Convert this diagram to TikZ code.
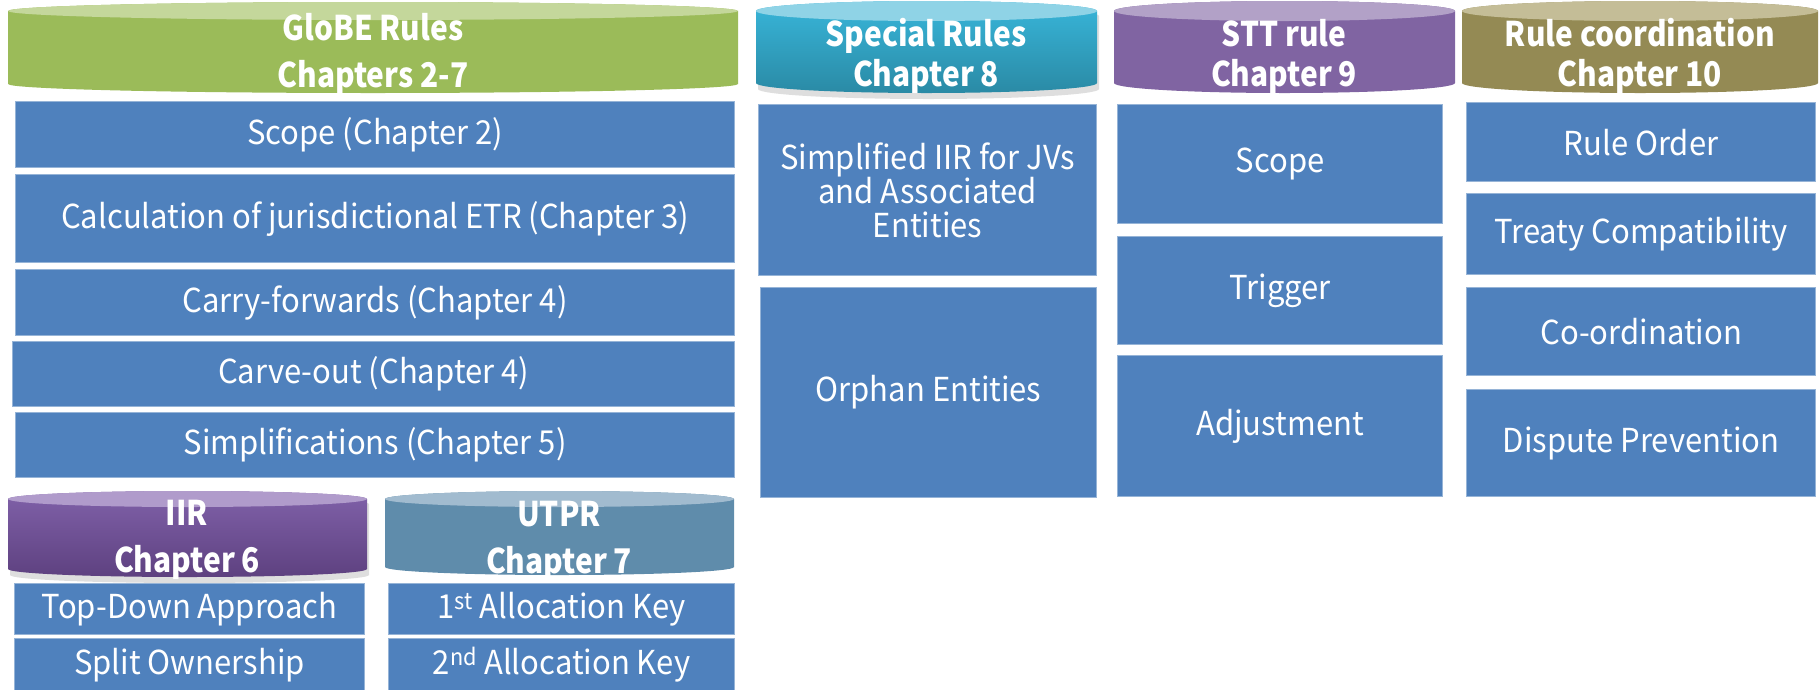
\documentclass[tikz,border=0pt]{standalone}
\usepackage{fontspec}
\setmainfont{Noto Sans CJK KR}[FakeStretch=0.94]
\newfontfamily\drumfont{Noto Sans CJK KR}[FakeStretch=0.88]

\definecolor{boxblue}{RGB}{79,129,189}
\definecolor{boxedge}{RGB}{150,180,215}
\definecolor{globebody}{RGB}{155,187,89}
\definecolor{globelid}{RGB}{196,215,155}
\definecolor{specialtop}{RGB}{56,182,218}
\definecolor{specialbot}{RGB}{42,138,165}
\definecolor{speciallid}{RGB}{143,211,230}
\definecolor{sttbody}{RGB}{128,100,162}
\definecolor{sttlid}{RGB}{178,161,199}
\definecolor{coordbody}{RGB}{148,138,84}
\definecolor{coordlid}{RGB}{196,189,151}
\definecolor{iirtop}{RGB}{128,97,169}
\definecolor{iirbot}{RGB}{94,65,128}
\definecolor{iirlid}{RGB}{176,155,203}
\definecolor{utprbody}{RGB}{95,140,171}
\definecolor{utprlid}{RGB}{161,187,207}

% drum body: x1, x2, top, bottom, ry, options
\newcommand{\drumbody}[6]{%
  \path[#6] (#1,#3+#5) -- (#1,#4-#5) arc[start angle=180,end angle=0,x radius={(#2-#1)/2},y radius=#5]
    -- (#2,#3+#5) arc[start angle=0,end angle=-180,x radius={(#2-#1)/2},y radius=#5] -- cycle;
}
% drum: x1, x2, top, bottom, ry, body options, lid colour
\newcommand{\drum}[7]{%
  \drumbody{#1}{#2}{#3}{#4}{#5}{#6}
  \fill[#7] ({(#1+#2)/2},#3+#5) ellipse[x radius={(#2-#1)/2},y radius=#5];
}

\tikzset{
  ruleblock/.style={rectangle, fill=boxblue, draw=boxedge, line width=1.2pt, text=white,
    anchor=north west, inner sep=0pt, align=center, font=\fontsize{33}{34}\selectfont},
  drumtext/.style={text=white, align=center, inner sep=0pt, font=\drumfont\bfseries\fontsize{34}{40}\selectfont},
  widedrumtext/.style={drumtext, font=\drumfont\bfseries\fontsize{34}{47}\selectfont},
  drumshadow/.style={fill=black, opacity=0.13},
}

\begin{document}
\begin{tikzpicture}[x=1pt,y=1pt,yscale=-1]
\useasboundingbox (0,0) rectangle (1820,689);

%Shape: Drum shadows
\drumbody{758}{1099}{6}{99}{10}{drumshadow}
\drumbody{10}{369}{496}{583}{8}{drumshadow}

%Shape: Drums
\drum{8}{738}{2}{93}{9}{fill=globebody}{globelid}
\drum{756}{1097}{1}{93}{10}{top color=specialtop,bottom color=specialbot}{speciallid}
\drum{1114}{1455}{1}{93}{10}{fill=sttbody}{sttlid}
\drum{1462}{1818}{1}{93}{10}{fill=coordbody}{coordlid}
\drum{8}{367}{491}{577}{8}{top color=iirtop,bottom color=iirbot}{iirlid}
\drum{385}{734}{491}{575}{8}{fill=utprbody}{utprlid}

% Drum titles
\node[widedrumtext] (globe) at (373,54) {GloBE Rules\\Chapters 2-7};
\node[drumtext] (special) at (926,56) {Special Rules\\Chapter 8};
\node[drumtext] (stt) at (1284,56) {STT rule\\Chapter 9};
\node[drumtext] (coord) at (1640,56) {Rule coordination\\Chapter 10};
\node[widedrumtext] (iir) at (187,540) {IIR\\Chapter 6};
\node[widedrumtext] (utpr) at (559,541) {UTPR\\Chapter 7};

% GloBE blocks
\node[ruleblock, minimum width=719, minimum height=66] (scope) at (15,101) {Scope (Chapter 2)};
\node[ruleblock, minimum width=719, minimum height=88] (etr) at (15,174) {Calculation of jurisdictional ETR (Chapter 3)};
\node[ruleblock, minimum width=719, minimum height=66] (carry) at (15,269) {Carry-forwards (Chapter 4)};
\node[ruleblock, minimum width=722, minimum height=65] (carve) at (12,341) {Carve-out (Chapter 4)};
\node[ruleblock, minimum width=719, minimum height=65] (simpl) at (15,412) {Simplifications (Chapter 5)};

% IIR and UTPR blocks
\node[ruleblock, minimum width=350, minimum height=51] (topdown) at (14,583) {Top-Down Approach};
\node[ruleblock, minimum width=350, minimum height=53] (split) at (14,638) {Split Ownership};
\node[ruleblock, minimum width=346, minimum height=51] (firstkey) at (388,583) {1\textsuperscript{st} Allocation Key};
\node[ruleblock, minimum width=346, minimum height=53] (secondkey) at (388,638) {2\textsuperscript{nd} Allocation Key};

% Special rules blocks
\node[ruleblock, minimum width=338, minimum height=171] (jv) at (758,104) {Simplified IIR for JVs\\and Associated\\Entities};
\node[ruleblock, minimum width=336, minimum height=210] (orphan) at (760,287) {Orphan Entities};

% STT blocks
\node[ruleblock, minimum width=325, minimum height=119] (sttscope) at (1117,104) {Scope};
\node[ruleblock, minimum width=325, minimum height=108] (trigger) at (1117,236) {Trigger};
\node[ruleblock, minimum width=325, minimum height=141] (adjust) at (1117,355) {Adjustment};

% Coordination blocks
\node[ruleblock, minimum width=349, minimum height=79] (order) at (1466,102) {Rule Order};
\node[ruleblock, minimum width=349, minimum height=81] (treaty) at (1466,193) {Treaty Compatibility};
\node[ruleblock, minimum width=349, minimum height=88] (coordn) at (1466,287) {Co-ordination};
\node[ruleblock, minimum width=349, minimum height=107] (dispute) at (1466,389) {Dispute Prevention};

\end{tikzpicture}
\end{document}
